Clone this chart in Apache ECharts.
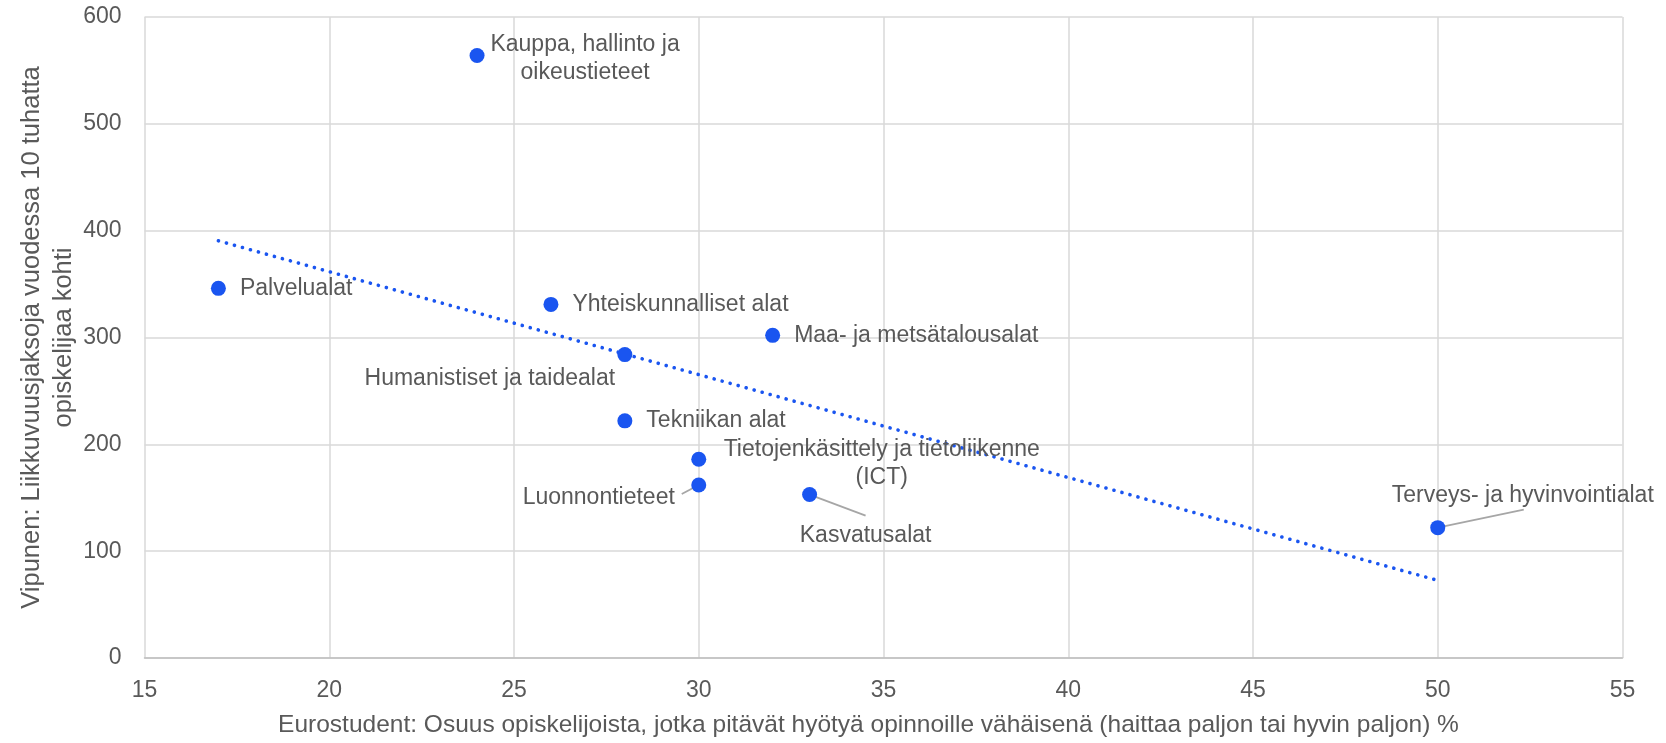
<!DOCTYPE html>
<html>
<head>
<meta charset="utf-8">
<script src="https://cdn.jsdelivr.net/npm/echarts@6/dist/echarts.min.js"></script>
<style>html,body{margin:0;padding:0;background:#fff}#c{width:1666px;height:743px}</style>
</head>
<body>
<div id="c"></div>
<script>
// ---- data ----
const categories = [
  'Kauppa, hallinto ja\noikeustieteet',
  'Palvelualat',
  'Yhteiskunnalliset alat',
  'Maa- ja metsätalousalat',
  'Humanistiset ja taidealat',
  'Tekniikan alat',
  'Tietojenkäsittely ja tietoliikenne\n(ICT)',
  'Luonnontieteet',
  'Kasvatusalat',
  'Terveys- ja hyvinvointialat'
];
const xValues = [24, 17, 26, 32, 28, 28, 30, 30, 33, 50];
const yValues = [564, 346, 331, 302, 284, 222, 186, 162, 153, 122];
const xTicks = [15, 20, 25, 30, 35, 40, 45, 50, 55];
const yTicks = [0, 100, 200, 300, 400, 500, 600];

// ---- label placement (pixel offsets from the point; styling only) ----
const labelPlace = [
  {pos: 'inside', dx: 108, dy: 3},
  {pos: 'right'},
  {pos: 'right'},
  {pos: 'right'},
  {pos: 'inside', dx: -135, dy: 24},
  {pos: 'right'},
  {pos: 'inside', dx: 183, dy: 4},
  {pos: 'inside', dx: -100, dy: 13, lead: [-17, 9]},
  {pos: 'inside', dx: 56, dy: 41, lead: [56, 21]},
  {pos: 'inside', dx: 85, dy: -32, lead: [86, -18]}
];

// linear trendline (least squares of the data)
const n = xValues.length;
const mx = xValues.reduce((a, b) => a + b, 0) / n;
const my = yValues.reduce((a, b) => a + b, 0) / n;
let sxy = 0, sxx = 0;
for (let i = 0; i < n; i++) { sxy += (xValues[i] - mx) * (yValues[i] - my); sxx += (xValues[i] - mx) ** 2; }
const slope = sxy / sxx, icpt = my - slope * mx;
const xMin = Math.min(...xValues), xMax = Math.max(...xValues);
const trend = [[xMin, icpt + slope * xMin], [xMax, icpt + slope * xMax]];

const TXT = '#595959';
const FONT = '"Liberation Sans", Arial, sans-serif';
const BLUE = '#1a55f0';

const points = categories.map((name, i) => {
  const p = labelPlace[i];
  return {
    name: name,
    value: [xValues[i], yValues[i]],
    label: {
      position: p.pos,
      distance: 14,
      align: p.pos === 'inside' ? 'center' : 'left',
      verticalAlign: 'middle'
    }
  };
});

const leaders = [];
labelPlace.forEach((p, i) => { if (p.lead) leaders.push([xValues[i], yValues[i], i]); });

const chart = echarts.init(document.getElementById('c'), null, {renderer: 'canvas'});
chart.setOption({
  animation: false,
  backgroundColor: '#fff',
  grid: {left: 144.5, right: 43.5, top: 17, bottom: 82, containLabel: false},
  xAxis: {
    type: 'value', min: xTicks[0], max: xTicks[xTicks.length - 1], interval: 5,
    name: 'Eurostudent: Osuus opiskelijoista, jotka pitävät hyötyä opinnoille vähäisenä (haittaa paljon tai hyvin paljon) %',
    nameLocation: 'middle', nameGap: 55, nameMoveOverlap: false,
    nameTextStyle: {color: TXT, fontSize: 24.5, fontFamily: FONT, padding: [0, 30, 0, 0]},
    axisLine: {show: true, lineStyle: {color: '#bfbfbf', width: 1.5}},
    axisTick: {show: false},
    axisLabel: {color: TXT, fontSize: 23, fontFamily: FONT, margin: 21},
    splitLine: {show: true, lineStyle: {color: '#d9d9d9', width: 1.5}}
  },
  yAxis: {
    type: 'value', min: yTicks[0], max: yTicks[yTicks.length - 1], interval: 100,
    name: 'Vipunen: Liikkuvuusjaksoja vuodessa 10 tuhatta\nopiskelijaa kohti',
    nameLocation: 'middle', nameGap: 65, nameRotate: 90, nameMoveOverlap: false,
    nameTextStyle: {color: TXT, fontSize: 25.5, fontFamily: FONT, lineHeight: 32, align: 'center'},
    axisLine: {show: false},
    axisTick: {show: false},
    axisLabel: {color: TXT, fontSize: 23, fontFamily: FONT, margin: 23},
    splitLine: {show: true, lineStyle: {color: '#d9d9d9', width: 1.5}}
  },
  series: [
    {
      type: 'custom',
      data: leaders,
      z: 2,
      silent: true,
      encode: {x: 0, y: 1},
      renderItem: function (params, api) {
        const c = api.coord([api.value(0), api.value(1)]);
        const o = labelPlace[api.value(2)].lead;
        return {
          type: 'line',
          shape: {x1: c[0], y1: c[1], x2: c[0] + o[0], y2: c[1] + o[1]},
          style: {stroke: '#a6a6a6', lineWidth: 1.8}
        };
      }
    },
    {
      type: 'line',
      data: trend,
      showSymbol: false,
      symbol: 'none',
      z: 3,
      lineStyle: {color: BLUE, width: 3.6, type: [0.1, 8.2], cap: 'round'}
    },
    {
      type: 'scatter',
      data: points,
      symbolSize: 15,
      z: 4,
      itemStyle: {color: BLUE, opacity: 1},
      label: {
        show: true,
        formatter: '{b}',
        color: TXT, fontSize: 23, fontFamily: FONT, lineHeight: 28
      },
      labelLayout: function (params) {
        const p = labelPlace[params.dataIndex];
        if (p.pos === 'inside') return {dx: p.dx, dy: p.dy};
        return {};
      }
    }
  ]
});
</script>
</body>
</html>
